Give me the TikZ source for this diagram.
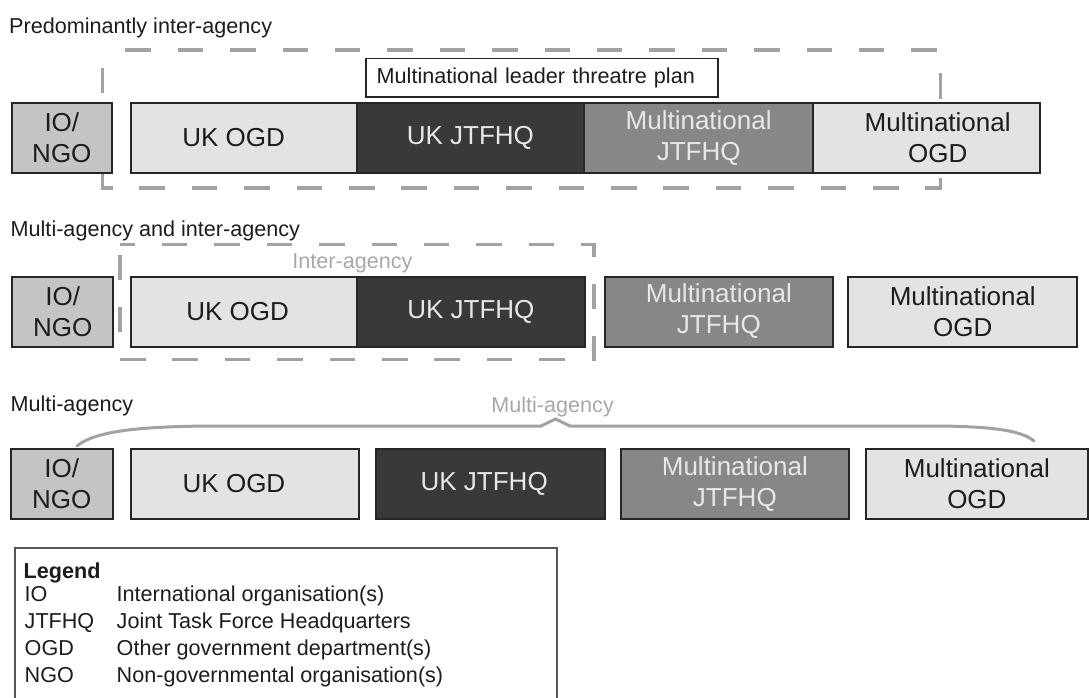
\documentclass[tikz,border=0pt]{standalone}
\usepackage{fontspec}
\setmainfont{Liberation Sans}
\usetikzlibrary{positioning}
\definecolor{iogrey}{HTML}{C4C4C4}
\definecolor{palegrey}{HTML}{E3E3E3}
\definecolor{darkgrey}{HTML}{393939}
\definecolor{midgrey}{HTML}{878787}
\definecolor{dashgrey}{HTML}{A2A2A2}
\definecolor{edgegrey}{HTML}{262626}
\definecolor{legendgrey}{HTML}{555555}
\definecolor{ink}{HTML}{1C1C1C}
\definecolor{paleink}{HTML}{E8E8E8}
\definecolor{faintink}{HTML}{A8A8A8}
\newcommand\boxfont{\fontsize{26}{31}\selectfont}
\newcommand\capfont{\fontsize{21.6}{26}\selectfont}
\newcommand\nudge[1]{\hspace*{#1}}
\begin{document}
\begin{tikzpicture}[x=1pt, y=-1pt, node distance=18pt,
  boxnode/.style={draw=edgegrey, line width=2pt, minimum height=70pt, inner sep=0pt, outer sep=0pt, align=center, font=\boxfont, text=ink},
  iobox/.style={boxnode, fill=iogrey},
  ogdbox/.style={boxnode, fill=palegrey},
  ukjbox/.style={boxnode, fill=darkgrey, text=paleink},
  mnjbox/.style={boxnode, fill=midgrey, text=paleink},
  heading/.style={inner sep=0pt, font=\capfont, text=ink},
  faint/.style={heading, text=faintink},
  agencyframe/.style={draw=dashgrey, line width=3.3pt, dash pattern=on 25.5pt off 26.9pt},
  bracepen/.style={draw=dashgrey, line width=3pt, line cap=round}]
\useasboundingbox (0,0) rectangle (1089,697);

\node[heading, anchor=base west] (headA) at (9,33.3) {Predominantly inter-agency};
\draw[agencyframe, dash phase=29.4pt] (102.3,50) -- (940.7,50) -- (940.7,188) -- (102.3,188) -- cycle;
\node[draw=edgegrey, line width=1.6pt, fill=white, font=\capfont, text=ink, text width=330.3pt, inner xsep=10.7pt, inner ysep=0pt, outer sep=0pt, minimum height=38.4pt, align=left, anchor=north west] (plan) at (366,58.3) {Multinational leader threatre plan};
\node[iobox, minimum width=100.3pt, anchor=west] (ioA) at (11.7,138) {IO/\\NGO};
\node[ogdbox, minimum width=226pt, right=18.7pt of ioA] (ukogdA) {\nudge{-20pt}UK OGD};
\node[ukjbox, minimum width=227.3pt, right=0pt of ukogdA] (ukjtfA) {UK JTFHQ};
\node[mnjbox, minimum width=229.3pt, right=0pt of ukjtfA] (mnjtfA) {Multinational\\JTFHQ};
\node[ogdbox, minimum width=226.7pt, right=0pt of mnjtfA] (mnogdA) {\nudge{22pt}Multinational\\\nudge{22pt}OGD};

\node[heading, anchor=base west] (headB) at (10.5,236.7) {Multi-agency and inter-agency};
\draw[agencyframe, dash phase=10.5pt] (120,244.3) -- (594,244.3) -- (594,359.3) -- (120,359.3) -- cycle;
\node[faint, anchor=base] (interlbl) at (352.5,268) {Inter-agency};
\node[iobox, minimum width=101pt, anchor=west] (ioB) at (12.3,311.5) {IO/\\NGO};
\node[ogdbox, minimum width=226pt, right=17.4pt of ioB] (ukogdB) {\nudge{-12pt}UK OGD};
\node[ukjbox, minimum width=228.3pt, right=0pt of ukogdB] (ukjtfB) {UK JTFHQ};
\node[mnjbox, minimum width=228.3pt, right=19.7pt of ukjtfB] (mnjtfB) {Multinational\\JTFHQ};
\node[ogdbox, minimum width=229pt, right=15.3pt of mnjtfB] (mnogdB) {Multinational\\OGD};

\node[heading, anchor=base west] (headC) at (10.5,411.7) {Multi-agency};
\node[faint, anchor=base] (multilbl) at (552.6,412) {Multi-agency};
\draw[bracepen] (77,446) .. controls (95,431) and (140,426) .. (220,426) -- (541,426) -- (555.5,419) -- (570,426) -- (930,426) .. controls (995,426) and (1022,431) .. (1034,441);
\node[iobox, minimum width=102pt, anchor=west] (ioC) at (10.7,484) {IO/\\NGO};
\node[ogdbox, minimum width=228.6pt, right=18pt of ioC] (ukogdC) {\nudge{-22pt}UK OGD};
\node[ukjbox, minimum width=229pt, right=16.4pt of ukogdC] (ukjtfC) {\nudge{-12pt}UK JTFHQ};
\node[mnjbox, minimum width=228.3pt, right=16pt of ukjtfC] (mnjtfC) {Multinational\\JTFHQ};
\node[ogdbox, minimum width=222.3pt, right=16.7pt of mnjtfC] (mnogdC) {Multinational\\OGD};

\draw[legendgrey, line width=1.3pt] (15,705) -- (15,548) -- (557,548) -- (557,705);
\node[heading, anchor=base west, font=\capfont\bfseries] (legtitle) at (23.5,578) {Legend};
\foreach \abbr/\desc [count=\i] in {IO/International organisation(s), JTFHQ/Joint Task Force Headquarters, OGD/Other government department(s), NGO/Non-governmental organisation(s)}
{
  \node[heading, anchor=base west] (legabbr\i) at (24.5,{601.3+27.2*(\i-1)}) {\abbr};
  \node[heading, anchor=base west] (legdesc\i) at (116.5,{601.3+27.2*(\i-1)}) {\desc};
}
\end{tikzpicture}
\end{document}
